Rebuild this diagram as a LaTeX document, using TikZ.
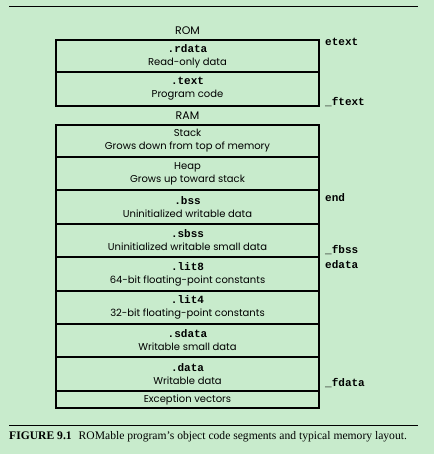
\documentclass[tikz,border=0pt]{standalone}
\usepackage{fontspec}
\setmainfont{Liberation Serif}
\newfontfamily\segsans{Poppins}
\newfontfamily\segmono{Liberation Mono}
\definecolor{bgc}{HTML}{C8EBCC}
\begin{document}
\begin{tikzpicture}[x=1pt,y=-1pt,
  seg/.style={draw, line width=1.1pt, minimum width=263pt, inner sep=0pt, align=center,
    font=\segsans\fontsize{10}{13}\selectfont},
  hdr/.style={font=\segsans\fontsize{11}{12}\selectfont},
  addr/.style={anchor=west, inner sep=0pt, font=\segmono\bfseries\fontsize{11}{12}\selectfont},
  rule/.style={line width=0.7pt}]
\fill[bgc] (0,0) rectangle (434,454);
\useasboundingbox (0,0) rectangle (434,454);
\newcommand{\sn}[1]{{\segmono\bfseries\fontsize{11}{12}\selectfont #1}}
\coordinate (r1a) at (9,6); \coordinate (r1b) at (418,6);
\draw[rule] (r1a) -- (r1b);
\node[hdr] (rom) at (187.5,31) {ROM};
\node[seg, minimum height=32pt] (rdata) at (187.5,56) {\sn{.rdata}\\Read-only data};
\node[seg, minimum height=34pt] (text) at (187.5,89) {\sn{.text}\\Program code};
\node[hdr] (ram) at (187.5,116) {RAM};
\node[seg, minimum height=32pt] (stack) at (187.5,141) {Stack\\Grows down from top of memory};
\node[seg, minimum height=33pt] (heap) at (187.5,173.5) {Heap\\Grows up toward stack};
\node[seg, minimum height=34pt] (bss) at (187.5,207) {\sn{.bss}\\Uninitialized writable data};
\node[seg, minimum height=33pt] (sbss) at (187.5,240.5) {\sn{.sbss}\\Uninitialized writable small data};
\node[seg, minimum height=34pt] (lit8) at (187.5,274) {\sn{.lit8}\\64-bit floating-point constants};
\node[seg, minimum height=33pt] (lit4) at (187.5,307.5) {\sn{.lit4}\\32-bit floating-point constants};
\node[seg, minimum height=33pt] (sdata) at (187.5,340.5) {\sn{.sdata}\\Writable small data};
\node[seg, minimum height=34pt] (data) at (187.5,374) {\sn{.data}\\Writable data};
\node[seg, minimum height=17pt] (exc) at (187.5,399.5) {Exception vectors};
\node[addr] (etext) at (325,42) {etext};
\node[addr] (ftext) at (325,102) {\_ftext};
\node[addr] (end) at (325,198) {end};
\node[addr] (fbss) at (325,250) {\_fbss};
\node[addr] (edata) at (325,265) {edata};
\node[addr] (fdata) at (325,383) {\_fdata};
\coordinate (r2a) at (9,425); \coordinate (r2b) at (418,425);
\draw[rule] (r2a) -- (r2b);
\node[anchor=west, inner sep=0pt, font=\fontsize{11.6}{13}\selectfont] (cap) at (9,437)
  {\textbf{FIGURE 9.1}\hspace{0.6em}ROMable program’s object code segments and typical memory layout.};
\end{tikzpicture}
\end{document}
